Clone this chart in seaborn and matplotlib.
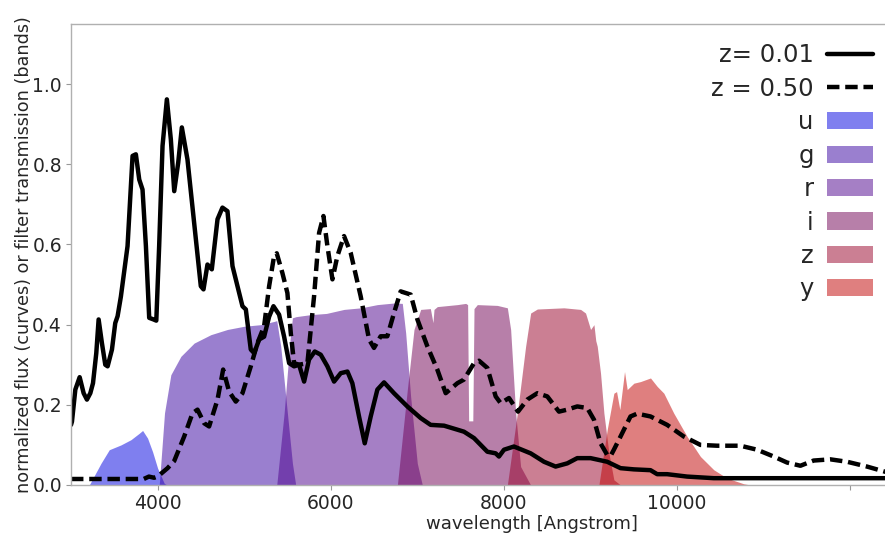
import numpy as np
import pandas as pd
import matplotlib
matplotlib.use("Agg")
import matplotlib.pyplot as plt
import seaborn as sns

# ---------------- data ----------------
# SED at z = 0.01 (solid)
sed1_wl = [3000, 3011, 3050, 3100, 3146, 3184, 3223, 3254, 3292, 3319, 3357, 3396, 3423, 3473,
           3511, 3538, 3576, 3653, 3711, 3749, 3788, 3826, 3865, 3903, 3953, 3985, 4018, 4057,
           4107, 4153, 4192, 4238, 4280, 4345, 4422, 4499, 4530, 4576, 4626, 4692, 4749, 4807,
           4865, 4903, 4980, 5019, 5076, 5115, 5173, 5230, 5288, 5338, 5403, 5461, 5519, 5576,
           5634, 5692, 5749, 5815, 5884, 5961, 6038, 6115, 6192, 6249, 6326, 6392, 6461, 6538,
           6615, 6730, 6884, 7038, 7153, 7308, 7462, 7538, 7654, 7808, 7904, 7942, 8000, 8115,
           8308, 8462, 8596, 8731, 8846, 9000, 9192, 9346, 9500, 9692, 9769, 9884, 10115,
           10423, 11000, 12500]
sed1_fx = [0.150, 0.158, 0.238, 0.269, 0.229, 0.213, 0.229, 0.254, 0.329, 0.413, 0.354, 0.300,
           0.296, 0.338, 0.404, 0.421, 0.470, 0.596, 0.821, 0.825, 0.762, 0.737, 0.596, 0.417,
           0.413, 0.410, 0.596, 0.846, 0.962, 0.862, 0.733, 0.804, 0.892, 0.812, 0.654, 0.496,
           0.488, 0.550, 0.538, 0.663, 0.692, 0.683, 0.546, 0.513, 0.446, 0.438, 0.338, 0.329,
           0.363, 0.370, 0.420, 0.446, 0.425, 0.370, 0.304, 0.296, 0.300, 0.258, 0.313, 0.333,
           0.325, 0.296, 0.258, 0.279, 0.283, 0.254, 0.171, 0.104, 0.171, 0.238, 0.256, 0.229,
           0.196, 0.167, 0.150, 0.148, 0.138, 0.133, 0.117, 0.083, 0.079, 0.071, 0.088, 0.096,
           0.079, 0.058, 0.046, 0.054, 0.067, 0.067, 0.058, 0.042, 0.039, 0.037, 0.027, 0.027,
           0.021, 0.017, 0.017, 0.017]

# SED at z = 0.50 (dashed)
sed2_wl = [3000, 3840, 3900, 3960, 4000, 4115, 4192, 4307, 4403, 4461, 4538, 4595, 4692, 4757,
           4826, 4903, 4980, 5076, 5153, 5230, 5288, 5345, 5376, 5441, 5499, 5538, 5576, 5634,
           5730, 5807, 5865, 5915, 5961, 6019, 6076, 6153, 6230, 6345, 6442, 6499, 6576, 6653,
           6730, 6807, 6923, 7000, 7115, 7230, 7327, 7462, 7538, 7654, 7712, 7808, 7904, 7962,
           8058, 8162, 8269, 8385, 8500, 8635, 8731, 8846, 8962, 9039, 9115, 9192, 9230, 9269,
           9346, 9461, 9538, 9692, 9884, 10076, 10269, 10461, 10730, 10923, 11115, 11269,
           11423, 11576, 11769, 11961, 12192, 12403, 12500]
sed2_fx = [0.015, 0.015, 0.021, 0.018, 0.021, 0.042, 0.060, 0.121, 0.179, 0.188, 0.154, 0.146,
           0.213, 0.288, 0.233, 0.208, 0.229, 0.296, 0.354, 0.396, 0.496, 0.571, 0.578, 0.529,
           0.479, 0.379, 0.304, 0.300, 0.304, 0.471, 0.629, 0.671, 0.596, 0.513, 0.571, 0.621,
           0.579, 0.471, 0.363, 0.342, 0.371, 0.371, 0.429, 0.483, 0.475, 0.413, 0.346, 0.288,
           0.229, 0.254, 0.263, 0.304, 0.310, 0.292, 0.221, 0.204, 0.217, 0.183, 0.213, 0.229,
           0.221, 0.183, 0.188, 0.196, 0.192, 0.163, 0.104, 0.075, 0.072, 0.088, 0.121, 0.171,
           0.178, 0.171, 0.150, 0.121, 0.100, 0.098, 0.098, 0.088, 0.071, 0.056, 0.048, 0.061,
           0.064, 0.058, 0.046, 0.033, 0.030]

# filter transmission curves
u_wl = [3200, 3211, 3346, 3442, 3577, 3692, 3788, 3827, 3884, 3942, 4000, 4077, 4110]
u_tr = [0.0, 0.0, 0.054, 0.088, 0.100, 0.113, 0.129, 0.136, 0.117, 0.083, 0.042, 0.004, 0.0]

g_wl = [3990, 4019, 4080, 4153, 4269, 4422, 4615, 4807, 5000, 5192, 5345, 5376, 5422, 5499,
        5557, 5595]
g_tr = [0.0, 0.0, 0.180, 0.275, 0.321, 0.354, 0.375, 0.388, 0.396, 0.400, 0.408, 0.410,
        0.346, 0.179, 0.054, 0.0]

r_wl = [5376, 5461, 5530, 5557, 5600, 5768, 5950, 6153, 6350, 6538, 6730, 6826, 6865, 6922,
        6999, 7057]
r_tr = [0.0, 0.179, 0.363, 0.417, 0.420, 0.425, 0.428, 0.438, 0.442, 0.450, 0.454, 0.453,
        0.379, 0.221, 0.054, 0.0]

i_wl = [6769, 6884, 6961, 7038, 7150, 7180, 7192, 7230, 7462, 7558, 7580, 7592, 7640, 7654,
        7692, 7923, 8039, 8077, 8135, 8192, 8308]
i_tr = [0.0, 0.238, 0.388, 0.438, 0.440, 0.405, 0.438, 0.445, 0.450, 0.453, 0.450, 0.160,
        0.160, 0.440, 0.450, 0.448, 0.442, 0.388, 0.179, 0.046, 0.0]

z_wl = [8039, 8154, 8250, 8308, 8385, 8692, 8885, 8942, 9000, 9039, 9060, 9077, 9115, 9154,
        9212, 9269, 9346]
z_tr = [0.0, 0.179, 0.346, 0.429, 0.439, 0.442, 0.438, 0.429, 0.388, 0.400, 0.360, 0.346,
        0.279, 0.179, 0.079, 0.013, 0.0]

y_wl = [9096, 9192, 9269, 9300, 9338, 9392, 9423, 9500, 9577, 9692, 9769, 9846, 9961, 10115,
        10269, 10423, 10577, 10769, 10850]
y_tr = [0.0, 0.138, 0.229, 0.233, 0.188, 0.283, 0.238, 0.254, 0.258, 0.267, 0.246, 0.229,
        0.179, 0.121, 0.071, 0.038, 0.017, 0.003, 0.0]

band_names = ["u", "g", "r", "i", "z", "y"]
band_wl = [u_wl, g_wl, r_wl, i_wl, z_wl, y_wl]
band_tr = [u_tr, g_tr, r_tr, i_tr, z_tr, y_tr]
band_colors = ["#0000e1", "#3700a1", "#4d008d", "#710055", "#990029", "#c10000"]

xticks = [4000, 6000, 8000, 10000, 12000]
xticklabels = ["4000", "6000", "8000", "10000", ""]
yticks = [0.0, 0.2, 0.4, 0.6, 0.8, 1.0]

# ---------------- plot ----------------
sns.set_style("white")
plt.rcParams["font.family"] = ["DejaVu Sans"]

fig = plt.figure(figsize=(8.85, 5.33), dpi=100)
ax = fig.add_axes([71 / 885, 48 / 533, 1 - 71 / 885, (485 - 24) / 533])

for name, wl, tr, col in zip(band_names, band_wl, band_tr, band_colors):
    ax.fill_between(wl, 0, tr, color=col, alpha=0.5, lw=0, label=name)

df1 = pd.DataFrame({"wl": sed1_wl, "flux": sed1_fx})
df2 = pd.DataFrame({"wl": sed2_wl, "flux": sed2_fx})
sns.lineplot(data=df1, x="wl", y="flux", color="black", lw=3.2, ax=ax, label="z= 0.01",
             sort=False, solid_joinstyle="round", solid_capstyle="round")
sns.lineplot(data=df2, x="wl", y="flux", color="black", lw=3.2, dashes=(2.8, 1.3), ax=ax,
             label="z = 0.50", sort=False, dash_joinstyle="round")

ax.set_xlim(3000, 12400)
ax.set_ylim(0, 1.15)
ax.set_xticks(xticks)
ax.set_xticklabels(xticklabels)
ax.set_yticks(yticks)
ax.set_yticklabels([f"{v:.1f}" for v in yticks])
ax.tick_params(axis="both", which="major", bottom=True, left=True, labelsize=13.5, length=3.5,
               width=0.8, color="#999999", labelcolor="#262626", pad=3)
for s in ["left", "top", "bottom"]:
    ax.spines[s].set_color("#b0b0b0")
    ax.spines[s].set_linewidth(1.0)
ax.spines["right"].set_visible(False)

ax.set_xlabel("wavelength [Angstrom]", fontsize=13, color="#262626")
ax.xaxis.set_label_coords((532 - 71) / (885 - 71), -0.065)
ax.set_ylabel("normalized flux (curves) or filter transmission (bands)", fontsize=12.7,
              color="#262626")
ax.yaxis.set_label_coords(-0.047, 0.5)

handles, labels = ax.get_legend_handles_labels()
order = [labels.index("z= 0.01"), labels.index("z = 0.50")] + [labels.index(b) for b in band_names]
ax.legend([handles[k] for k in order], [labels[k] for k in order], loc="upper right",
          bbox_to_anchor=(1.0125, 1.006), frameon=False, markerfirst=False, fontsize=17.5,
          handlelength=1.9, handletextpad=0.55, labelspacing=0.39)

fig.savefig("out.png", dpi=100)
